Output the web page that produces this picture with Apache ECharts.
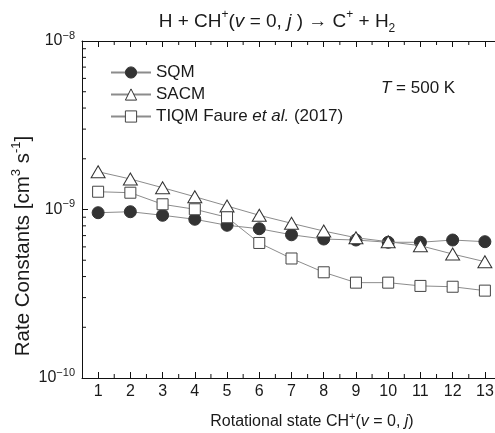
<!DOCTYPE html>
<html><head><meta charset="utf-8">
<script src="https://cdn.jsdelivr.net/npm/echarts@6/dist/echarts.min.js"></script>
<style>html,body{margin:0;padding:0;background:#fff}#c{width:495px;height:433px}</style>
</head><body><div id="c"></div>
<script>
// ---- data ----
const states = [1,2,3,4,5,6,7,8,9,10,11,12,13];
const sqm  = [0.957e-9,0.970e-9,0.924e-9,0.875e-9,0.806e-9,0.769e-9,0.708e-9,0.668e-9,0.659e-9,0.639e-9,0.639e-9,0.659e-9,0.644e-9];
const sacm = [1.676e-9,1.517e-9,1.347e-9,1.191e-9,1.049e-9,0.924e-9,0.828e-9,0.745e-9,0.680e-9,0.644e-9,0.610e-9,0.544e-9,0.490e-9];
const tiqm = [1.275e-9,1.258e-9,1.074e-9,1.003e-9,0.899e-9,0.633e-9,0.512e-9,0.424e-9,0.368e-9,0.368e-9,0.352e-9,0.348e-9,0.330e-9];
const seriesNames = ['SQM','SACM','TIQM'];
const legendLabels = ['SQM','SACM','TIQM Faure {i|et al.} (2017)'];
const xMin = 0.5, xMax = 13.5;
const yMin = 1e-10, yMax = 1e-8;
const yMinorMantissas = [2,3,4,5,6,7,8,9];
const yMinorDecades = [-10,-9];

// ---- style ----
const FF = '"Liberation Sans", Arial, sans-serif';
const TXT = '#1a1a1a';
const LINE = '#8c8c8c';
const AX = '#111';

const leftMinor = [];
yMinorDecades.forEach(e => yMinorMantissas.forEach(m => leftMinor.push([xMin, m*Math.pow(10,e)])));
const bottomMinor = states.map(s => [s+0.5, yMin]);
const topMinor = states.map(s => [s+0.5, yMax]);

const chart = echarts.init(document.getElementById('c'), null, {renderer:'canvas'});
const titleRich = {
  sup: {fontSize: 12, fontFamily: FF, color: TXT, verticalAlign: 'top', lineHeight: 12},
  sub: {fontSize: 12, fontFamily: FF, color: TXT, verticalAlign: 'bottom', lineHeight: 15},
  i: {fontSize: 19, fontFamily: FF, color: TXT, fontStyle: 'italic', verticalAlign: 'middle', lineHeight: 26}
};
const rich16 = {
  sup: {fontSize: 11, fontFamily: FF, color: TXT, verticalAlign: 'top', lineHeight: 11},
  i: {fontSize: 16, fontFamily: FF, color: TXT, fontStyle: 'italic', verticalAlign: 'middle', lineHeight: 22}
};
const rich17 = {
  sup: {fontSize: 11, fontFamily: FF, color: TXT, verticalAlign: 'top', lineHeight: 11},
  i: {fontSize: 17, fontFamily: FF, color: TXT, fontStyle: 'italic', verticalAlign: 'middle', lineHeight: 17}
};
const richName = {
  sup: {fontSize: 13, fontFamily: FF, color: TXT, verticalAlign: 'top', lineHeight: 13}
};

const textGraphics = [
  {type: 'text', x: 277, y: 22, style: {text: 'H + CH{sup|+}({i|v} = 0, {i|j} ) → C{sup|+} + H{sub|2}',
    fontSize: 19, fontFamily: FF, fill: TXT, lineHeight: 26, align: 'center', verticalAlign: 'middle', rich: titleRich}},
  {type: 'text', x: 381, y: 88, style: {text: '{i|T} = 500 K', fontSize: 17, fontFamily: FF, fill: TXT,
    lineHeight: 17, align: 'left', verticalAlign: 'middle', rich: rich17}},
  {type: 'text', x: 23, y: 246, rotation: Math.PI/2, style: {text: 'Rate Constants [cm{sup|3} s{sup|-1}]',
    fontSize: 20.5, fontFamily: FF, fill: TXT, lineHeight: 26, align: 'center', verticalAlign: 'middle', rich: richName}},
  {type: 'text', x: 312, y: 422, style: {text: 'Rotational state CH{sup|+}({i|v} = 0, {i|j})',
    fontSize: 16, fontFamily: FF, fill: TXT, lineHeight: 22, align: 'center', verticalAlign: 'middle', rich: rich16}}
];

function minorTickSeries(data, size, offset) {
  return {type: 'scatter', silent: true, clip: false, z: 6, data: data,
    symbol: 'rect', symbolSize: size, symbolOffset: offset,
    itemStyle: {color: AX, borderWidth: 0, opacity: 1}, emphasis: {disabled: true}};
}

const option = {
  animation: false,
  backgroundColor: '#fff',
  grid: {left: 82, right: -6, top: 41, bottom: 55, containLabel: false, outerBoundsMode: 'none'},
  xAxis: [{
    type: 'value', min: xMin, max: xMax, splitNumber: 13, minInterval: 1, maxInterval: 1,
    position: 'bottom',
    axisLine: {show: true, lineStyle: {color: AX, width: 1}},
    axisTick: {show: true, inside: true, length: 6, lineStyle: {color: AX}},
    axisLabel: {fontSize: 16, fontFamily: FF, color: TXT, margin: 6,
      formatter: v => (Math.abs(v - Math.round(v)) < 1e-6 && v >= 1 && v <= 13) ? String(Math.round(v)) : ''},
    splitLine: {show: false}
  }, {
    type: 'value', min: xMin, max: xMax, splitNumber: 13, minInterval: 1, maxInterval: 1,
    position: 'top',
    axisLine: {show: true, lineStyle: {color: AX, width: 1}},
    axisTick: {show: true, inside: true, length: 6, lineStyle: {color: AX}},
    axisLabel: {show: false},
    splitLine: {show: false}
  }],
  yAxis: {
    type: 'log', logBase: 10, min: yMin, max: yMax,
    axisLine: {show: true, lineStyle: {color: AX, width: 1}},
    axisTick: {show: true, inside: true, length: 6, lineStyle: {color: AX}},
    axisLabel: {fontSize: 16, fontFamily: FF, color: TXT, margin: 7, lineHeight: 22,
      formatter: v => '10{sup|−' + Math.round(-Math.log10(v)) + '}',
      rich: rich16},
    splitLine: {show: false}
  },
  legend: {
    orient: 'vertical', left: 110, top: 64, padding: 0, itemWidth: 40, itemHeight: 14, itemGap: 5,
    data: seriesNames,
    formatter: name => legendLabels[seriesNames.indexOf(name)],
    textStyle: {fontSize: 17, fontFamily: FF, color: TXT, rich: rich17},
    itemStyle: {borderWidth: 1},
    selectedMode: false
  },
  graphic: textGraphics,
  series: [
    {name: 'SQM', type: 'line', data: states.map((s,i)=>[s, sqm[i]]), symbol: 'circle', symbolSize: 12,
      itemStyle: {color: '#333', borderColor: '#333', borderWidth: 1}, lineStyle: {color: LINE, width: 1}, emphasis: {disabled: true}, z: 3},
    {name: 'SACM', type: 'line', data: states.map((s,i)=>[s, sacm[i]]), symbol: 'triangle', symbolSize: [14,12],
      itemStyle: {color: '#fff', borderColor: '#333', borderWidth: 1}, lineStyle: {color: LINE, width: 1}, emphasis: {disabled: true}, z: 4},
    {name: 'TIQM', type: 'line', data: states.map((s,i)=>[s, tiqm[i]]), symbol: 'rect', symbolSize: 11,
      itemStyle: {color: '#fff', borderColor: '#444', borderWidth: 1}, lineStyle: {color: LINE, width: 1}, emphasis: {disabled: true}, z: 5},
    minorTickSeries(leftMinor, [4, 1], [2, 0]),
    minorTickSeries(bottomMinor, [1, 4], [0, -2]),
    minorTickSeries(topMinor, [1, 4], [0, 2])
  ]
};
chart.setOption(option);
</script></body></html>
